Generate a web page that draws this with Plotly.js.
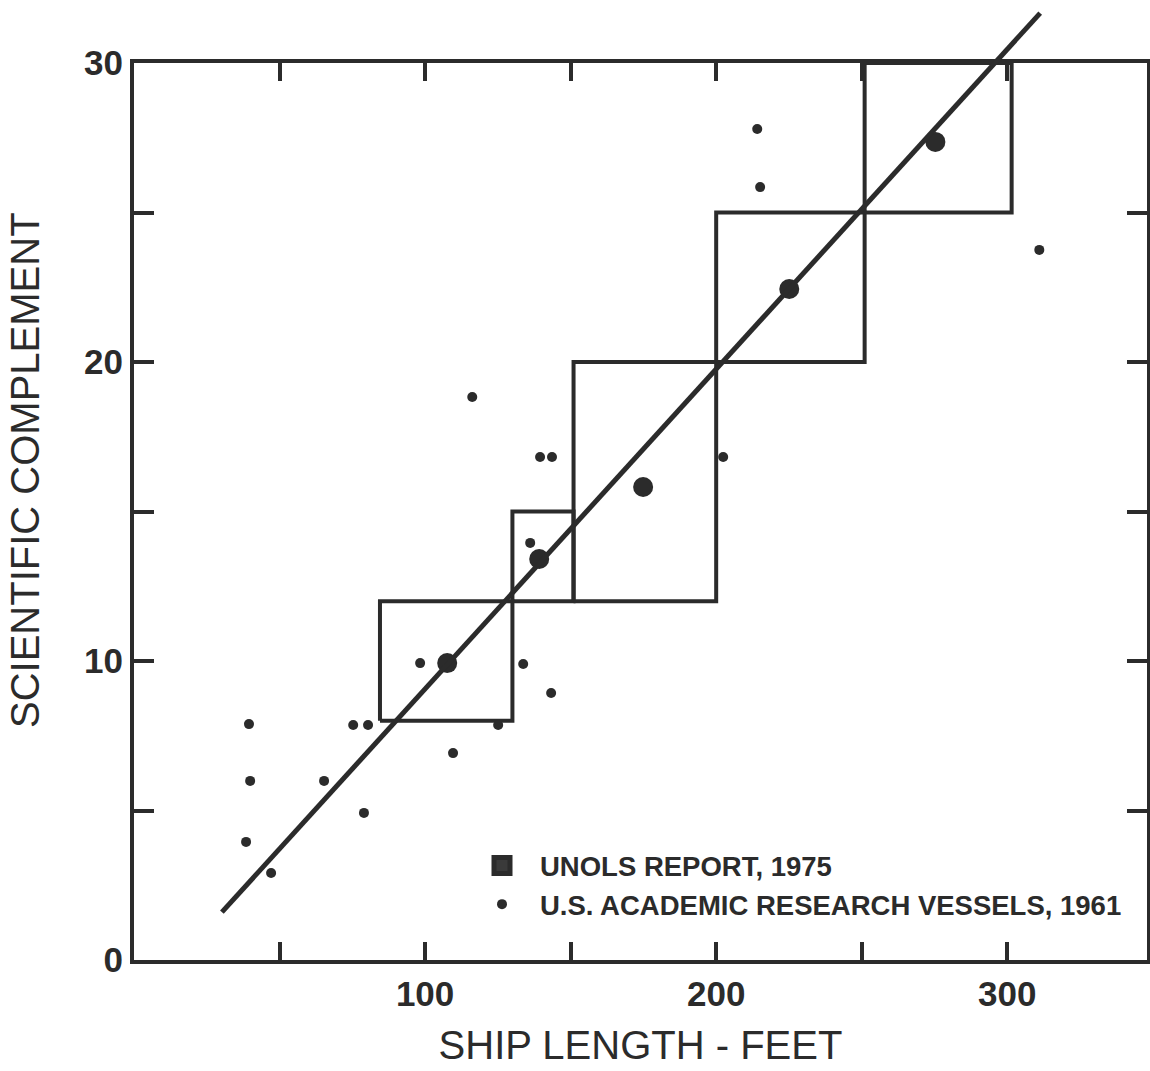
<!DOCTYPE html>
<html>
<head>
<meta charset="utf-8">
<script src="https://cdn.plot.ly/plotly-3.0.1.min.js"></script>
<style>html,body{margin:0;padding:0;background:#fff;}#chart{width:1150px;height:1071px;}</style>
</head>
<body>
<div id="chart"></div>
<script>
// ---- Data ----
// Regression line end points (ship length ft, scientific complement)
const fitX = [30.2, 311.3];
const fitY = [1.6, 31.67];

// UNOLS report, 1975 (large dots)
const unolsX = [107.6, 139.2, 174.9, 225.1, 275.3];
const unolsY = [9.93, 13.41, 15.82, 22.44, 27.36];

// U.S. academic research vessels, 1961 (small dots)
const vesselsX = [39.5, 39.9, 38.5, 47.1, 65.3, 75.3, 80.4, 79.0, 98.3, 109.6, 125.1, 133.7, 143.3, 136.1, 116.2, 139.5, 143.6, 202.4, 214.1, 215.1, 311.0];
const vesselsY = [7.89, 5.99, 3.95, 2.91, 5.99, 7.86, 7.86, 4.92, 9.93, 6.92, 7.86, 9.90, 8.93, 13.95, 18.83, 16.82, 16.82, 16.82, 27.79, 25.85, 23.75];

// Recommended ranges (boxes): length range x size range
const boxX0 = [84.5, 130, 151, 200, 251];
const boxX1 = [130, 151, 200, 251, 301.5];
const boxY0 = [8, 12, 12, 20, 25];
const boxY1 = [12, 15, 20, 25, 30];

// Ticks
const xTickVals = [50, 100, 150, 200, 250, 300];
const xTickText = ['', '100', '', '200', '', '300'];
const yTickVals = [0, 5, 10, 15, 20, 25, 30];
const yTickText = ['0', '', '10', '', '20', '', '30'];

const legendNames = ['UNOLS REPORT, 1975', 'U.S. ACADEMIC RESEARCH VESSELS, 1961'];

// ---- Styling / layout ----
const INK = '#2b2b2b';
const FONT = 'Liberation Sans, Arial, sans-serif';
const W = 1150, H = 1071;
const M = {l: 134, r: 3, t: 8, b: 111};
const plotH = H - M.t - M.b;           // full plot area height (px)
const axisH = 897;                      // height of the framed axes (px)
const yDomTop = axisH / plotH;
const xRange = [0, 348];
const yRange = [0, 30];

// Build box outlines from the arrays
const bx = [], by = [];
for (let i = 0; i < boxX0.length; i++) {
  bx.push(boxX0[i], boxX1[i], boxX1[i], boxX0[i], boxX0[i], null);
  by.push(boxY0[i], boxY0[i], boxY1[i], boxY1[i], boxY0[i], null);
}

const traces = [
  {
    x: bx, y: by, type: 'scatter', mode: 'lines',
    line: {color: INK, width: 4}, showlegend: false, hoverinfo: 'skip',
    connectgaps: false
  },
  {
    x: fitX, y: fitY, type: 'scatter', mode: 'lines', xaxis: 'x', yaxis: 'y2',
    line: {color: INK, width: 5}, showlegend: false, hoverinfo: 'skip'
  },
  {
    x: unolsX, y: unolsY, type: 'scatter', mode: 'markers',
    marker: {color: INK, size: 20, symbol: 'circle'},
    name: legendNames[0], showlegend: false, cliponaxis: false
  },
  {
    // legend key only (square symbol as in the original key)
    x: [null], y: [null], type: 'scatter', mode: 'markers',
    marker: {color: '#3a3a3a', size: 16, symbol: 'square', line: {color: INK, width: 5}},
    name: legendNames[0], showlegend: true, hoverinfo: 'skip'
  },
  {
    x: vesselsX, y: vesselsY, type: 'scatter', mode: 'markers',
    marker: {color: INK, size: 10, symbol: 'circle'},
    name: legendNames[1], showlegend: true, cliponaxis: false
  }
];

const layout = {
  width: W, height: H,
  margin: M,
  paper_bgcolor: '#ffffff',
  plot_bgcolor: 'rgba(0,0,0,0)',
  font: {family: FONT, color: INK},
  showlegend: true,
  legend: {
    x: (464 - M.l) / (W - M.l - M.r),
    y: (960 - 841) / plotH,
    xanchor: 'left', yanchor: 'top',
    bgcolor: 'rgba(0,0,0,0)',
    borderwidth: 0,
    itemwidth: 66,
    font: {family: FONT, size: 27.5, color: INK, weight: 'bold'}
  },
  xaxis: {
    range: xRange, anchor: 'y',
    showline: true, linecolor: INK, linewidth: 4, mirror: 'ticks',
    ticks: 'inside', ticklen: 18, tickwidth: 4, tickcolor: INK,
    tickmode: 'array', tickvals: xTickVals, ticktext: xTickText,
    tickfont: {family: FONT, size: 35, color: INK, weight: 'bold'},
    showgrid: false, zeroline: false,
    title: {text: 'SHIP LENGTH - FEET', font: {family: FONT, size: 40, color: INK}, standoff: 20}
  },
  yaxis: {
    range: yRange, domain: [0, yDomTop], anchor: 'x',
    showline: true, linecolor: INK, linewidth: 4, mirror: 'ticks',
    ticks: 'inside', ticklen: 20, tickwidth: 4, tickcolor: INK,
    tickmode: 'array', tickvals: yTickVals, ticktext: yTickText,
    tickfont: {family: FONT, size: 35, color: INK, weight: 'bold'},
    showgrid: false, zeroline: false
  },
  yaxis2: {
    range: [0, yRange[1] * plotH / axisH], domain: [0, 1], anchor: 'x',
    visible: false, showgrid: false, zeroline: false
  },
  annotations: [{
    text: 'SCIENTIFIC COMPLEMENT',
    xref: 'paper', yref: 'paper',
    x: (25 - M.l) / (W - M.l - M.r), y: (960 - 470) / plotH,
    xanchor: 'center', yanchor: 'middle',
    textangle: -90, showarrow: false,
    font: {family: FONT, size: 40, color: INK}
  }]
};

Plotly.newPlot('chart', traces, layout, {displayModeBar: false, staticPlot: true});
</script>
</body>
</html>
